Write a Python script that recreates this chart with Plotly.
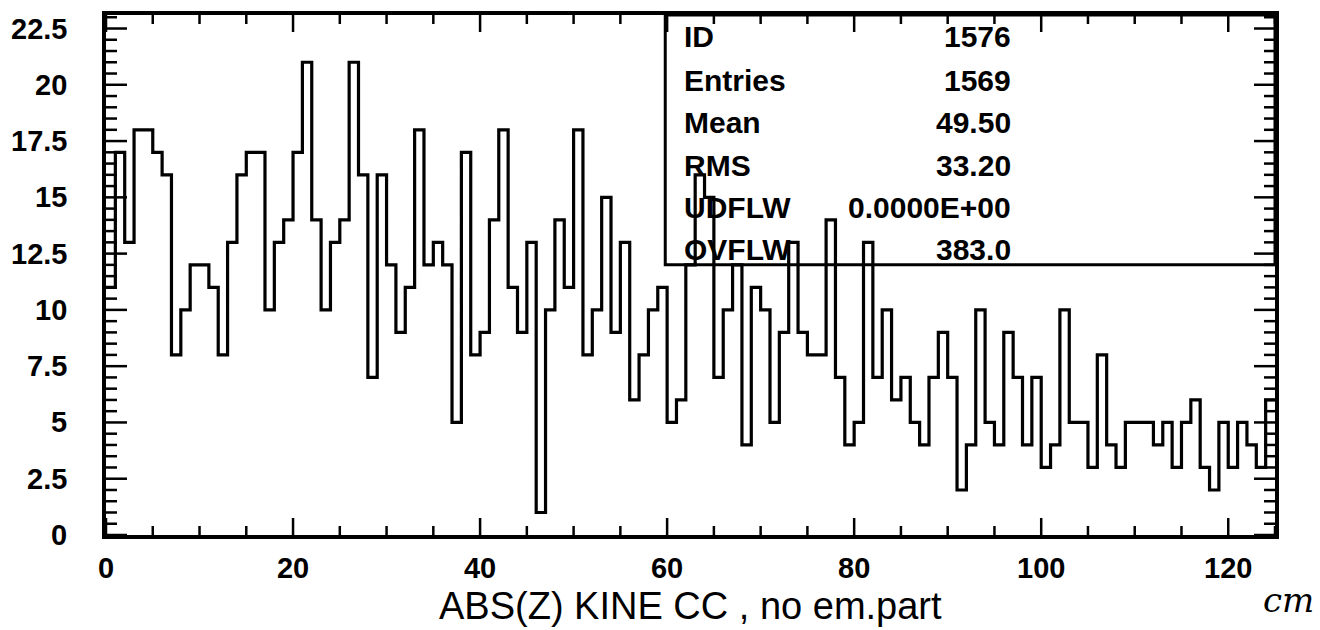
import numpy as np
import plotly.graph_objects as go

# ABS(Z) distribution, 125 bins of 1 cm from 0 to 125
bin_low = list(range(0, 125))
counts = [
    11, 17, 13, 18, 18, 17, 16, 8, 10, 12,
    12, 11, 8, 13, 16, 17, 17, 10, 13, 14,
    17, 21, 14, 10, 13, 14, 21, 16, 7, 16,
    12, 9, 11, 18, 12, 13, 12, 5, 17, 8,
    9, 14, 18, 11, 9, 13, 1, 10, 14, 11,
    18, 8, 10, 15, 9, 13, 6, 8, 10, 11,
    5, 6, 12, 16, 15, 7, 10, 12, 4, 11,
    10, 5, 9, 13, 9, 8, 8, 14, 7, 4,
    5, 13, 7, 10, 6, 7, 5, 4, 7, 9,
    7, 2, 4, 10, 5, 4, 9, 7, 4, 7,
    3, 4, 10, 5, 5, 3, 8, 4, 3, 5,
    5, 5, 4, 5, 3, 5, 6, 3, 2, 5,
    3, 5, 4, 3, 6,
]
x_range = [0, 125]
y_range = [0, 23.1]
x_major, x_minor = 20, 5
y_major, y_minor = 2.5, 0.5

stat_names = ["ID", "Entries", "Mean", "RMS", "UDFLW", "OVFLW"]
stat_values = ["1576", "1569", "49.50", "33.20", "0.0000E+00", "383.0"]

x_title = "ABS(Z) KINE CC , no em.part"

W, H = 1320, 630
L, R, T, B = 106, 45, 15, 95
PW, PH = W - L - R, H - T - B


def px(xp):
    return (xp - L) / PW


def py(yp):
    return (H - B - yp) / PH


# step outline: each bin's level held until the next edge
edges = bin_low + [bin_low[-1] + 1]
levels = counts + [counts[-1]]

fig = go.Figure()
fig.add_trace(go.Scatter(
    x=edges, y=levels, mode="lines", line_shape="hv",
    line=dict(color="black", width=3.2), hoverinfo="skip", showlegend=False,
))

fig.update_xaxes(
    range=x_range, tick0=0, dtick=x_major, ticks="", showline=True,
    linewidth=3.5, linecolor="black", mirror=True, showgrid=False,
    zeroline=False,
    tickfont=dict(family="Liberation Sans", size=29, color="black", weight="bold"),
    ticklabelstandoff=4,
)
fig.update_yaxes(
    range=y_range, ticks="", showline=True, linewidth=3.5, linecolor="black",
    mirror=True, showgrid=False, zeroline=False, showticklabels=False,
)

# inward tick marks on all four sides of the frame
tick_shapes = []
for xv in np.arange(x_range[0], x_range[1] + 1e-9, x_minor):
    major = abs(xv / x_major - round(xv / x_major)) < 1e-9
    ln = (17 if major else 9) / PH
    for a, b in ((0, ln), (1 - ln, 1)):
        tick_shapes.append(dict(type="line", xref="x", yref="y domain",
                                x0=float(xv), x1=float(xv), y0=a, y1=b,
                                line=dict(color="black", width=2.5)))
for yv in np.arange(y_range[0], y_range[1] + 1e-9, y_minor):
    major = abs(yv / y_major - round(yv / y_major)) < 1e-9
    ln = (21 if major else 11) / PW
    for a, b in ((0, ln), (1 - ln, 1)):
        tick_shapes.append(dict(type="line", xref="x domain", yref="y",
                                x0=a, x1=b, y0=float(yv), y1=float(yv),
                                line=dict(color="black", width=2.5)))
fig.update_layout(shapes=tick_shapes)

# y tick labels, set well away from the frame
y_font = dict(family="Liberation Sans", size=29, color="black", weight="bold")
for yv in np.arange(y_range[0], y_range[1] + 1e-9, y_major):
    fig.add_annotation(x=px(69), y=float(yv), xref="paper", yref="y",
                       text=f"{yv:g}", showarrow=False, xanchor="right",
                       yanchor="middle", font=y_font)

# statistics box, open so the histogram shows through
fig.add_shape(type="rect", xref="x", yref="y", x0=59.8, x1=125, y0=12, y1=23.1,
              line=dict(color="black", width=3), fillcolor="rgba(0,0,0,0)")

stat_font = dict(family="Liberation Sans", size=30, color="black", weight="bold")
row_y = [37, 80, 122, 165, 207, 250]
for name, val, yp in zip(stat_names, stat_values, row_y):
    fig.add_annotation(x=px(682), y=py(yp), xref="paper", yref="paper",
                       text=name, showarrow=False, xanchor="left",
                       yanchor="middle", font=stat_font)
    fig.add_annotation(x=px(1013), y=py(yp), xref="paper", yref="paper",
                       text=val, showarrow=False, xanchor="right",
                       yanchor="middle", font=stat_font)

fig.add_annotation(x=px(690), y=py(606), xref="paper", yref="paper",
                   text=x_title, showarrow=False, xanchor="center",
                   yanchor="middle",
                   font=dict(family="Liberation Sans", size=38, color="black"))
fig.add_annotation(x=px(1288), y=py(600), xref="paper", yref="paper",
                   text="cm", showarrow=False, xanchor="center",
                   yanchor="middle",
                   font=dict(family="DejaVu Serif", size=34, color="black",
                             style="italic"))

fig.update_layout(
    width=W, height=H, margin=dict(l=L, r=R, t=T, b=B),
    paper_bgcolor="white", plot_bgcolor="white", showlegend=False,
)

fig.write_html("out.html")
